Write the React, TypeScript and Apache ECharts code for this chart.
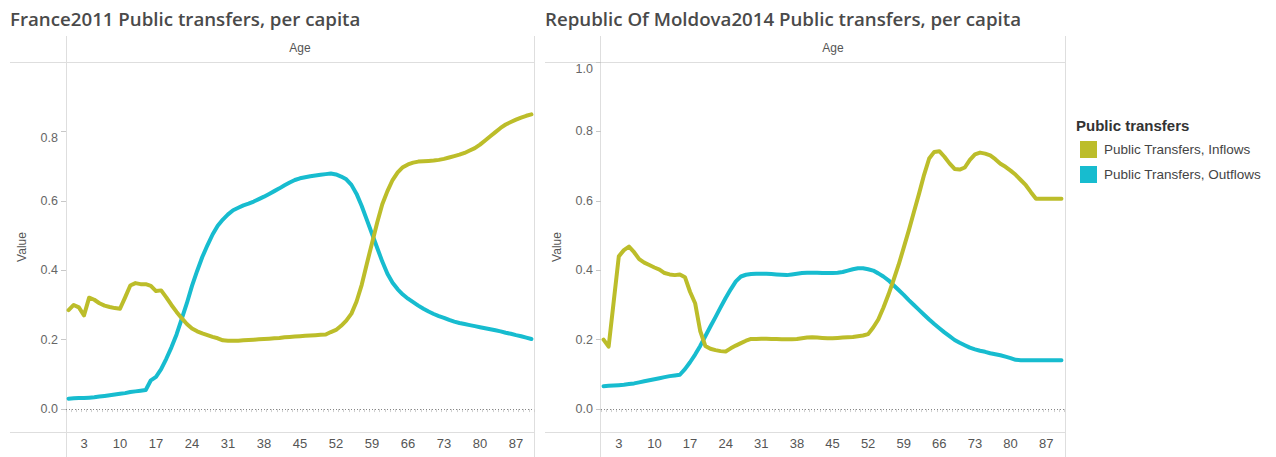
import React, { useEffect, useRef } from "react";
import * as echarts from "echarts";

const ages: string[] = Array.from({ length: 91 }, (_, i) => String(i));
const tickAges: number[] = [3, 10, 17, 24, 31, 38, 45, 52, 59, 66, 73, 80, 87];
const franceTicks: number[] = [0, 0.2, 0.4, 0.6, 0.8];
const moldovaTicks: number[] = [0, 0.2, 0.4, 0.6, 0.8, 1.0];

const franceInflows: number[] = [
  0.285, 0.300, 0.293, 0.270, 0.321, 0.315, 0.305, 0.298, 0.294, 0.291,
  0.289, 0.322, 0.356, 0.363, 0.360, 0.360, 0.355, 0.340, 0.342, 0.322,
  0.300, 0.280, 0.262, 0.245, 0.232, 0.224, 0.218, 0.213, 0.208, 0.204,
  0.198, 0.197, 0.197, 0.197, 0.198, 0.199, 0.200, 0.201, 0.202, 0.203,
  0.204, 0.205, 0.207, 0.208, 0.209, 0.210, 0.211, 0.212, 0.213, 0.214,
  0.215, 0.222, 0.228, 0.240, 0.255, 0.275, 0.310, 0.358, 0.419, 0.478,
  0.537, 0.590, 0.628, 0.660, 0.682, 0.697, 0.705, 0.710, 0.713, 0.714,
  0.715, 0.716, 0.718, 0.721, 0.725, 0.729, 0.733, 0.738, 0.745, 0.752,
  0.762, 0.774, 0.786, 0.798, 0.810, 0.820, 0.827, 0.834, 0.840, 0.845,
  0.849,
];

const franceOutflows: number[] = [
  0.030, 0.031, 0.032, 0.032, 0.033, 0.034, 0.036, 0.038, 0.040, 0.042,
  0.044, 0.046, 0.049, 0.051, 0.053, 0.055, 0.083, 0.093, 0.115, 0.145,
  0.178, 0.215, 0.260, 0.305, 0.355, 0.398, 0.438, 0.472, 0.503, 0.528,
  0.546, 0.561, 0.573, 0.580, 0.587, 0.592, 0.598, 0.605, 0.612, 0.620,
  0.628, 0.636, 0.645, 0.653, 0.660, 0.665, 0.668, 0.671, 0.673, 0.675,
  0.677, 0.679, 0.676, 0.670, 0.662, 0.646, 0.620, 0.585, 0.545, 0.505,
  0.465, 0.425, 0.390, 0.364, 0.345, 0.330, 0.318, 0.308, 0.298, 0.289,
  0.281, 0.274, 0.268, 0.263, 0.257, 0.252, 0.248, 0.245, 0.242, 0.239,
  0.236, 0.233, 0.230, 0.227, 0.224, 0.220, 0.217, 0.213, 0.210, 0.206,
  0.202,
];

const moldovaInflows: number[] = [
  0.200, 0.180, 0.310, 0.440, 0.458, 0.468, 0.452, 0.432, 0.422, 0.415,
  0.408, 0.402, 0.392, 0.388, 0.386, 0.388, 0.380, 0.338, 0.305, 0.225,
  0.182, 0.174, 0.170, 0.167, 0.166, 0.175, 0.183, 0.190, 0.197, 0.202,
  0.202, 0.203, 0.203, 0.202, 0.202, 0.201, 0.201, 0.201, 0.202, 0.204,
  0.206, 0.207, 0.206, 0.205, 0.204, 0.204, 0.205, 0.206, 0.207, 0.208,
  0.210, 0.212, 0.216, 0.235, 0.258, 0.292, 0.330, 0.372, 0.416, 0.465,
  0.515, 0.568, 0.620, 0.675, 0.722, 0.741, 0.743, 0.727, 0.708, 0.692,
  0.690, 0.696, 0.718, 0.734, 0.739, 0.736, 0.731, 0.720, 0.707, 0.698,
  0.687, 0.675, 0.660, 0.645, 0.625, 0.606, 0.606, 0.606, 0.606, 0.606,
  0.606,
];

const moldovaOutflows: number[] = [
  0.066, 0.067, 0.068, 0.069, 0.070, 0.072, 0.074, 0.077, 0.080, 0.083,
  0.086, 0.089, 0.092, 0.095, 0.097, 0.099, 0.115, 0.135, 0.157, 0.182,
  0.210, 0.238, 0.265, 0.293, 0.320, 0.345, 0.368, 0.382, 0.387, 0.389,
  0.390, 0.390, 0.390, 0.389, 0.388, 0.387, 0.386, 0.388, 0.390, 0.392,
  0.393, 0.393, 0.393, 0.392, 0.392, 0.392, 0.393, 0.395, 0.399, 0.403,
  0.406, 0.406, 0.403, 0.399, 0.391, 0.382, 0.371, 0.357, 0.343, 0.329,
  0.314, 0.300, 0.286, 0.272, 0.258, 0.245, 0.233, 0.221, 0.210, 0.199,
  0.191, 0.184, 0.177, 0.172, 0.168, 0.165, 0.161, 0.158, 0.155, 0.151,
  0.147, 0.142, 0.141, 0.141, 0.141, 0.141, 0.141, 0.141, 0.141, 0.141,
  0.141,
];

const INFLOW = "Public Transfers, Inflows";
const OUTFLOW = "Public Transfers, Outflows";
const C_IN = "#bcbd2a";
const C_OUT = "#17bccf";
const GRIDC = "#dedede";
const FONT = "'Liberation Sans', Arial, sans-serif";
const TITLE_FONT = "600 18.7px 'Open Sans', sans-serif";

export default function App() {
  const ref = useRef<HTMLDivElement>(null);
  useEffect(() => {
    document.body.style.margin = "0";
    const chart = echarts.init(ref.current!, null, { renderer: "svg" });
    const grids = [
      { left: 66, top: 62, width: 468, height: 370 },
      { left: 601, top: 62, width: 463, height: 370 },
    ];
    const mkX = (gi: number) => ({
      type: "category",
      gridIndex: gi,
      data: ages,
      boundaryGap: true,
      axisLine: { show: false },
      axisTick: {
        show: true,
        interval: 0,
        length: 3,
        lineStyle: { color: "#cfcfcf", width: 1 },
      },
      axisLabel: {
        interval: (i: number) => tickAges.includes(i),
        color: "#555",
        fontSize: 13,
        fontFamily: FONT,
        margin: 5,
      },
      splitLine: { show: false },
    });
    const mkY = (gi: number, ticks: number[]) => ({
      type: "value",
      gridIndex: gi,
      min: -0.066,
      max: 1.0,
      axisLine: { show: false },
      splitLine: { show: false },
      axisTick: {
        show: true,
        length: 5,
        customValues: ticks,
        lineStyle: { color: "#c8c8c8" },
      },
      axisLabel: {
        customValues: ticks,
        color: "#666",
        fontSize: 12.5,
        fontFamily: FONT,
        margin: 8,
        formatter: (v: number) => v.toFixed(1),
        verticalAlignMaxLabel: "top",
      },
      name: "Value",
      nameLocation: "middle",
      nameGap: 38,
      nameRotate: 90,
      nameTextStyle: { color: "#555", fontSize: 12, fontFamily: FONT },
    });
    const zeroLine = {
      silent: true,
      symbol: "none",
      label: { show: false },
      lineStyle: { type: [1, 2], color: "#888", width: 1 },
      data: [{ yAxis: 0 }],
    };
    const mkS = (name: string, color: string, data: number[], gi: number, mark: boolean) => ({
      type: "line",
      name,
      xAxisIndex: gi,
      yAxisIndex: gi,
      data,
      showSymbol: false,
      symbol: "none",
      lineStyle: { color, width: 4, join: "round", cap: "round" },
      itemStyle: { color },
      z: name === INFLOW ? 3 : 2,
      markLine: mark ? zeroLine : undefined,
    });
    const vline = (x: number, y1: number, y2: number) => ({
      type: "line",
      silent: true,
      shape: { x1: x, y1, x2: x, y2 },
      style: { stroke: GRIDC, lineWidth: 1 },
    });
    const hline = (y: number, x1: number, x2: number) => ({
      type: "line",
      silent: true,
      shape: { x1, y1: y, x2, y2: y },
      style: { stroke: GRIDC, lineWidth: 1 },
    });
    chart.setOption({
      animation: false,
      grid: grids,
      xAxis: [mkX(0), mkX(1)],
      yAxis: [mkY(0, franceTicks), mkY(1, moldovaTicks)],
      legend: {
        orient: "vertical",
        left: 1080,
        top: 141,
        padding: 0,
        icon: "rect",
        itemWidth: 17,
        itemHeight: 17,
        itemGap: 8,
        data: [INFLOW, OUTFLOW],
        textStyle: { color: "#444", fontSize: 13.5, fontFamily: FONT, padding: [0, 0, 0, 2] },
        selectedMode: false,
      },
      series: [
        mkS(OUTFLOW, C_OUT, franceOutflows, 0, true),
        mkS(INFLOW, C_IN, franceInflows, 0, false),
        mkS(OUTFLOW, C_OUT, moldovaOutflows, 1, true),
        mkS(INFLOW, C_IN, moldovaInflows, 1, false),
      ],
      graphic: [
        vline(66.5, 36, 457),
        vline(534.5, 36, 457),
        hline(62.5, 10, 534),
        hline(432.5, 10, 534),
        vline(600.5, 36, 457),
        vline(1065.5, 36, 457),
        hline(62.5, 545, 1065),
        hline(432.5, 545, 1065),
        {
          type: "text",
          x: 10,
          y: 18,
          style: {
            text: "France2011 Public transfers, per capita",
            fill: "#4a4a4a",
            font: TITLE_FONT,
            verticalAlign: "middle",
          },
        },
        {
          type: "text",
          x: 545,
          y: 18,
          style: {
            text: "Republic Of Moldova2014 Public transfers, per capita",
            fill: "#4a4a4a",
            font: TITLE_FONT,
            verticalAlign: "middle",
          },
        },
        {
          type: "text",
          x: 300,
          y: 48,
          style: {
            text: "Age",
            fill: "#555",
            font: "12px 'Liberation Sans', Arial, sans-serif",
            align: "center",
            verticalAlign: "middle",
          },
        },
        {
          type: "text",
          x: 833,
          y: 48,
          style: {
            text: "Age",
            fill: "#555",
            font: "12px 'Liberation Sans', Arial, sans-serif",
            align: "center",
            verticalAlign: "middle",
          },
        },
        {
          type: "text",
          x: 1076,
          y: 125,
          style: {
            text: "Public transfers",
            fill: "#333",
            font: "bold 15px 'Liberation Sans', Arial, sans-serif",
            verticalAlign: "middle",
          },
        },
      ],
    });
    return () => chart.dispose();
  }, []);
  return <div ref={ref} style={{ width: 1276, height: 457 }} />;
}
